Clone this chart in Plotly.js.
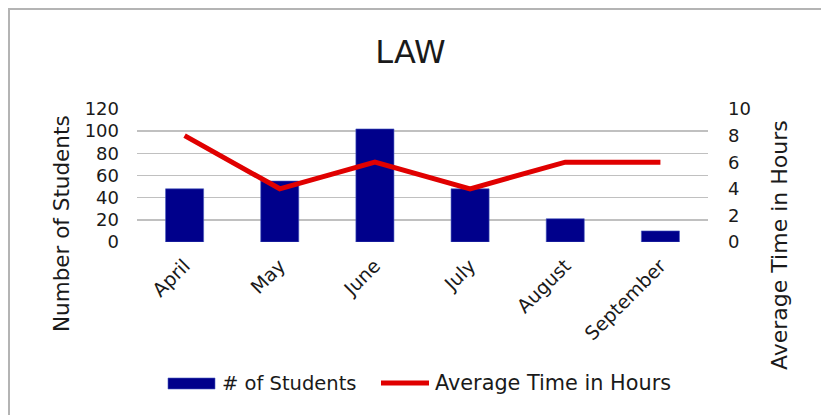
<!DOCTYPE html>
<html>
<head>
<meta charset="utf-8">
<script src="https://cdn.plot.ly/plotly-3.0.1.min.js"></script>
<style>
html,body{margin:0;padding:0;background:#fff;}
#wrap{position:relative;width:821px;height:415px;overflow:hidden;}
#chart{position:absolute;left:0;top:0;width:821px;height:415px;}
#frame{position:absolute;left:8px;top:8px;width:830px;height:420px;border-left:2px solid #b4b4b4;border-top:2px solid #b4b4b4;pointer-events:none;}
</style>
</head>
<body>
<div id="wrap"><div id="chart"></div><div id="frame"></div></div>
<script>
const months = ["April", "May", "June", "July", "August", "September"];
const students = [48, 55, 102, 48, 21, 10];
const avgHours = [8, 4, 6, 4, 6, 6];
const yTicksLeft = [0, 20, 40, 60, 80, 100, 120];
const yTicksRight = [0, 2, 4, 6, 8, 10];
const seriesNames = ["# of Students", "Average Time in Hours"];

const FONT = "DejaVu Sans, sans-serif";
const TXT = "#1a1a1a";
const BAR_COLOR = "#00008b";
const LINE_COLOR = "#e00000";

// plot area in pixels: x 137..708, y 109..242
const W = 821, H = 415, L = 137, R = 113, T = 109, B = 173;
const PW = W - L - R, PH = H - T - B;
const px = v => (v - L) / PW;
const py = v => (H - B - v) / PH;

const traces = [
  {
    type: "bar", name: seriesNames[0], x: months, y: students,
    marker: {color: BAR_COLOR, line: {color: "#4a5cc0", width: 0.6}},
    yaxis: "y", showlegend: false
  },
  {
    type: "scatter", mode: "lines", name: seriesNames[1], x: months, y: avgHours,
    line: {color: LINE_COLOR, width: 5},
    yaxis: "y2", showlegend: false
  }
];

const layout = {
  width: W, height: H,
  paper_bgcolor: "#ffffff", plot_bgcolor: "#ffffff",
  margin: {l: L, r: R, t: T, b: B},
  font: {family: FONT, color: TXT, size: 18},
  title: {text: "LAW", font: {family: FONT, size: 32, color: TXT}, x: 0.5, xanchor: "center", y: 1 - 52 / H, yanchor: "middle"},
  bargap: 0.6,
  showlegend: false,
  xaxis: {
    type: "category", tickangle: -45, showgrid: false, showline: false, zeroline: false,
    tickfont: {family: FONT, size: 19, color: TXT}, ticks: "", ticklabelstandoff: 8
  },
  yaxis: {
    range: [0, 120], tickvals: yTicksLeft, showgrid: true, gridcolor: "#c0c0c0", gridwidth: 1.5,
    zeroline: false, showline: false, ticks: "", ticklabelstandoff: 17,
    tickfont: {family: FONT, size: 18, color: TXT}
  },
  yaxis2: {
    range: [0, 10], tickvals: yTicksRight, overlaying: "y", side: "right", showgrid: false,
    zeroline: false, showline: false, ticks: "", ticklabelstandoff: 19,
    tickfont: {family: FONT, size: 18, color: TXT}
  },
  annotations: [
    {text: "Number of Students", xref: "paper", yref: "paper", x: px(61), y: py(224),
     xanchor: "center", yanchor: "middle", textangle: -90, showarrow: false,
     font: {family: FONT, size: 21.5, color: TXT}},
    {text: "Average Time in Hours", xref: "paper", yref: "paper", x: px(779), y: py(245),
     xanchor: "center", yanchor: "middle", textangle: -90, showarrow: false,
     font: {family: FONT, size: 22, color: TXT}},
    {text: seriesNames[0], xref: "paper", yref: "paper", x: px(220), y: py(383),
     xanchor: "left", yanchor: "middle", showarrow: false,
     font: {family: FONT, size: 19.5, color: TXT}},
    {text: seriesNames[1], xref: "paper", yref: "paper", x: px(433), y: py(383),
     xanchor: "left", yanchor: "middle", showarrow: false,
     font: {family: FONT, size: 20.8, color: TXT}}
  ],
  shapes: [
    {type: "rect", xref: "paper", yref: "paper", x0: px(168), x1: px(215), y0: py(389), y1: py(378),
     fillcolor: BAR_COLOR, line: {color: "#4a5cc0", width: 0.6}},
    {type: "line", xref: "paper", yref: "paper", x0: px(381), x1: px(429), y0: py(383), y1: py(383),
     line: {color: LINE_COLOR, width: 5}}
  ]
};

Plotly.newPlot("chart", traces, layout, {displayModeBar: false, staticPlot: true});
</script>
</body>
</html>
